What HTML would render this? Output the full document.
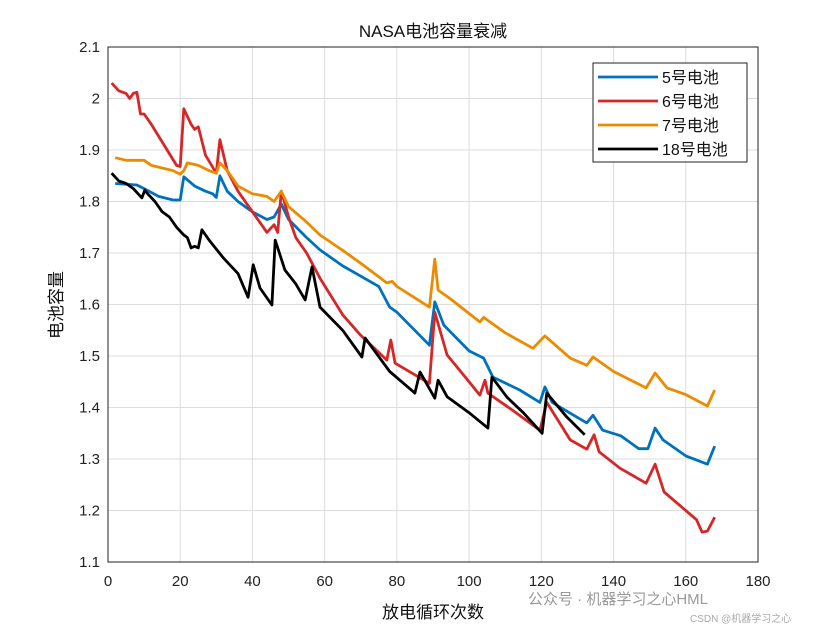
<!DOCTYPE html>
<html><head><meta charset="utf-8"><style>
body{margin:0;background:#fff;}
svg{display:block;font-family:"Liberation Sans","Noto Sans CJK SC",sans-serif;}
</style></head><body>
<svg id="chart" width="840" height="630">
<rect width="840" height="630" fill="#fff"/>
<g id="grid"></g>
<g id="series"></g>
<rect x="108" y="47" width="650" height="515" fill="none" stroke="#222" stroke-width="1"/>
<g id="ticks"></g>
<text x="433" y="37" text-anchor="middle" font-size="17" fill="#111">NASA电池容量衰减</text>
<text x="433" y="618" text-anchor="middle" font-size="17" fill="#111">放电循环次数</text>
<text transform="translate(62,305) rotate(-90)" text-anchor="middle" font-size="17" fill="#111">电池容量</text>
<g id="legend"></g>
<text x="528" y="604" font-size="15" fill="#999">公众号 · 机器学习之心HML</text>
<text x="690" y="622" font-size="10" fill="#aaa">CSDN @机器学习之心</text>
</svg>
<script>
const xTicks=[0,20,40,60,80,100,120,140,160,180];
const yTicks=[1.1,1.2,1.3,1.4,1.5,1.6,1.7,1.8,1.9,2.0,2.1];
const yTickLabels=["1.1","1.2","1.3","1.4","1.5","1.6","1.7","1.8","1.9","2","2.1"];
const seriesNames=["5号电池","6号电池","7号电池","18号电池"];
const seriesColors=["#0072bd","#d95319","#edb120","#000000"];
const c5=[2,8,10,14,18,20,21,24,27,29,30,31,33,36,40,44,46,48,50,55,58.7,65,70,75,78,80,89,90.5,93,100,104,106.6,114,119.6,121,123,128,132.6,134.3,137,142,147,149.5,151.5,153.7,160,166,168];
const v5=[1.835,1.832,1.825,1.81,1.803,1.803,1.848,1.83,1.82,1.815,1.808,1.85,1.82,1.80,1.78,1.765,1.77,1.795,1.765,1.73,1.706,1.675,1.655,1.635,1.595,1.585,1.521,1.605,1.56,1.51,1.496,1.459,1.434,1.41,1.44,1.41,1.389,1.37,1.385,1.356,1.345,1.32,1.32,1.36,1.337,1.306,1.29,1.325];
const c6=[1,3,5,6,7,8,9,10,12,19,20,21,23,24,25,27,30,31,33,36,40,42,44,46,47,48,50,52,55,58.7,65,70,77.2,78.3,79.5,89,90.5,93.9,100,103,104.4,105.2,112,119.6,121.5,128,132.6,134.6,136,141.8,149,151.5,154,163,164.5,166,168];
const v6=[2.03,2.015,2.01,2.0,2.01,2.012,1.97,1.97,1.95,1.87,1.868,1.98,1.95,1.94,1.945,1.89,1.855,1.92,1.86,1.82,1.78,1.76,1.74,1.755,1.74,1.82,1.77,1.73,1.70,1.651,1.58,1.54,1.492,1.531,1.486,1.447,1.585,1.502,1.45,1.424,1.453,1.428,1.395,1.356,1.41,1.337,1.319,1.347,1.314,1.282,1.253,1.29,1.236,1.182,1.158,1.16,1.187];
const c7=[2,5,10,12,18,20,21,22,25,28,30,31,33,36,40,44,46,48,50,55,58.7,65,70,77.2,78.7,80,89,90.5,91.4,95,103,104,110,117.7,121,128,132.6,134.3,140,149,151.5,154.8,160,166,168];
const v7=[1.885,1.88,1.88,1.87,1.86,1.853,1.86,1.875,1.87,1.86,1.855,1.875,1.86,1.83,1.815,1.81,1.80,1.82,1.79,1.76,1.735,1.705,1.68,1.642,1.645,1.635,1.595,1.688,1.628,1.61,1.566,1.575,1.545,1.515,1.539,1.496,1.482,1.498,1.47,1.438,1.467,1.438,1.425,1.403,1.434];
const c18=[1,3,5,7,9.4,10.2,11,13,15,17,19,21,22,23,24,25,26,28,32,36,38.8,40.2,42.1,45.4,46.3,49,52,54.6,56.5,58.7,65,70.3,71.2,78,85,86.4,90.5,91.4,93.9,100,105.2,106.3,110.5,115,120.2,121.5,127,132];
const v18=[1.855,1.84,1.835,1.825,1.807,1.822,1.815,1.80,1.78,1.77,1.75,1.735,1.73,1.71,1.713,1.71,1.745,1.725,1.69,1.66,1.614,1.677,1.632,1.599,1.725,1.667,1.64,1.609,1.673,1.595,1.55,1.498,1.535,1.47,1.428,1.469,1.418,1.453,1.421,1.39,1.36,1.459,1.42,1.39,1.35,1.428,1.382,1.347];
const allC=[c5,c6,c7,c18], allV=[v5,v6,v7,v18];
const X0=108,X1=758,Y0=562,Y1=47;
const sx=v=>X0+(v-0)/(180-0)*(X1-X0);
const sy=v=>Y0-(v-1.1)/(2.1-1.1)*(Y0-Y1);
const NS="http://www.w3.org/2000/svg";
const mk=(t,a,p)=>{const e=document.createElementNS(NS,t);for(const k in a)e.setAttribute(k,a[k]);p.appendChild(e);return e;};
const grid=document.getElementById('grid'),ticks=document.getElementById('ticks');
xTicks.forEach((t,i)=>{
  const g=mk('line',{x1:sx(t),x2:sx(t),y1:Y1,y2:Y0,stroke:'#dcdcdc','stroke-width':1},grid);
  
  
  const l=mk('text',{x:sx(t),y:586,'text-anchor':'middle','font-size':15,fill:'#222'},ticks);
  l.textContent=String(t);
  
  
});
yTicks.forEach((t,i)=>{
  const g=mk('line',{x1:X0,x2:X1,y1:sy(t),y2:sy(t),stroke:'#dcdcdc','stroke-width':1},grid);
  
  
  const l=mk('text',{x:100,y:sy(t)+5,'text-anchor':'end','font-size':15,fill:'#222'},ticks);
  l.textContent=yTickLabels[i];
  
  
});
const colors=["#0072bd","#d62728","#ed8b00","#000000"];
const ser=document.getElementById('series');
[0,1,2,3].forEach(i=>{
  const d=allC[i].map((c,j)=>(j?'L':'M')+sx(c).toFixed(1)+','+sy(allV[i][j]).toFixed(1)).join(' ');
  const p=mk('path',{d:d,fill:'none',stroke:colors[i],'stroke-width':2.8,'stroke-linejoin':'round'},ser);
  
  
});
const lg=document.getElementById('legend');
const box=mk('rect',{x:593,y:63,width:154,height:99,fill:'#fff',stroke:'#222','stroke-width':1},lg);


const ly=[77,101,125,149];
seriesNames.forEach((n,i)=>{
  const l=mk('line',{x1:598,x2:658,y1:ly[i],y2:ly[i],stroke:colors[i],'stroke-width':2.8},lg);
  
  
  const t=mk('text',{x:662,y:ly[i]+6,'font-size':16,fill:'#111'},lg);
  t.textContent=n;
  
  
});
</script>
</body></html>
